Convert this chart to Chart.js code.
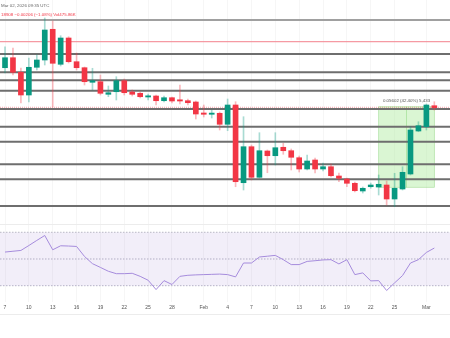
<!DOCTYPE html>
<html>
<head>
<meta charset="utf-8">
<script src="https://cdn.jsdelivr.net/npm/chart.js@4"></script>
<style>
  body { margin: 0; background: #fff; width: 450px; height: 338px; overflow: hidden; position: relative; font-family: "Liberation Sans", Arial, sans-serif; }
  #main { position: absolute; left: 0; top: 0; width: 450px; height: 224px; }
  #rsi { position: absolute; left: 0; top: 224px; width: 450px; height: 96px; }
  .hdr { position: absolute; left: 1px; font-size: 4.4px; white-space: nowrap; }
  .sep { position: absolute; left: 0; width: 450px; height: 1px; background: #ececec; }
</style>
</head>
<body>
<div id="main"><canvas id="mainChart"></canvas></div>
<div id="rsi"><canvas id="rsiChart"></canvas></div>
<div class="sep" style="top:224px"></div>
<div class="sep" style="top:314px"></div>
<div class="hdr" style="top:3px;color:#666">Mar 02, 2026 09:35 UTC</div>
<div class="hdr" style="top:12px;color:#f23645">18908 −0.00206 (−1.08%) Vol475.86K</div>
<script>
"use strict"

// data (one candle per day, Jan 7 .. Mar 2)
const opens = [0.2165, 0.2235, 0.2133, 0.1974, 0.2168, 0.2219, 0.2434, 0.2189, 0.2373, 0.2207,
  0.2165, 0.2063, 0.2067, 0.1979, 0.1997, 0.2074, 0.1995, 0.1986, 0.1960, 0.1967,
  0.1934, 0.1955, 0.1939, 0.1934, 0.1925, 0.1848, 0.1839, 0.1846, 0.1769, 0.1904,
  0.1360, 0.1612, 0.1398, 0.1582, 0.1549, 0.1608, 0.1584, 0.1535, 0.1456, 0.1519,
  0.1456, 0.1472, 0.1407, 0.1386, 0.1356, 0.1302, 0.1332, 0.1330, 0.1344, 0.1246,
  0.1316, 0.1421, 0.1722, 0.1752, 0.1899]
const closes = [0.2235, 0.2133, 0.1974, 0.2168, 0.2219, 0.2429, 0.2196, 0.2373, 0.2207, 0.2165,
  0.2067, 0.2074, 0.1986, 0.1990, 0.2074, 0.1990, 0.1979, 0.1962, 0.1967, 0.1934,
  0.1955, 0.1932, 0.1932, 0.1920, 0.1841, 0.1839, 0.1844, 0.1769, 0.1904, 0.1367,
  0.1612, 0.1398, 0.1584, 0.1549, 0.1605, 0.1584, 0.1538, 0.1456, 0.1512, 0.1456,
  0.1472, 0.1409, 0.1391, 0.1356, 0.1304, 0.1321, 0.1344, 0.1349, 0.1246, 0.1321,
  0.1433, 0.1729, 0.1759, 0.1904, 0.1885]
const highs = [0.2312, 0.2303, 0.2163, 0.2233, 0.2254, 0.2513, 0.2492, 0.2389, 0.2382, 0.2268,
  0.2170, 0.2161, 0.2114, 0.2037, 0.2102, 0.2086, 0.2009, 0.1995, 0.1981, 0.1974,
  0.1967, 0.1960, 0.2044, 0.1946, 0.1932, 0.1904, 0.1869, 0.1855, 0.1946, 0.1927,
  0.1822, 0.1624, 0.1710, 0.1589, 0.1710, 0.1636, 0.1596, 0.1547, 0.1554, 0.1533,
  0.1498, 0.1491, 0.1428, 0.1393, 0.1365, 0.1330, 0.1358, 0.1414, 0.1372, 0.1426,
  0.1472, 0.1752, 0.1787, 0.1911, 0.1927]
const lows = [0.2128, 0.2114, 0.1918, 0.1925, 0.2149, 0.2184, 0.1890, 0.2177, 0.2198, 0.2149,
  0.2044, 0.2009, 0.1974, 0.1962, 0.1939, 0.1974, 0.1967, 0.1953, 0.1939, 0.1904,
  0.1925, 0.1918, 0.1911, 0.1904, 0.1806, 0.1820, 0.1813, 0.1729, 0.1724, 0.1332,
  0.1309, 0.1379, 0.1393, 0.1430, 0.1484, 0.1559, 0.1449, 0.1435, 0.1449, 0.1428,
  0.1442, 0.1400, 0.1367, 0.1332, 0.1295, 0.1288, 0.1321, 0.1274, 0.1204, 0.1192,
  0.1309, 0.1414, 0.1717, 0.1729, 0.1869]
const rsiValues = [55.2, 55.8, 56.4, 60.1, 63.9, 67.6, 56.9, 59.9, 59.7, 59.4,
  51.9, 46.5, 43.7, 40.8, 39.0, 39.0, 39.3, 37.0, 34.1, 27.1,
  33.8, 30.9, 37.0, 37.8, 38.1, 38.3, 38.5, 38.7, 38.3, 36.6,
  47.0, 47.0, 51.5, 52.1, 52.7, 49.5, 45.8, 45.8, 48.2, 48.7,
  49.3, 49.5, 46.3, 49.5, 38.3, 39.6, 33.6, 33.8, 26.4, 32.1,
  37.6, 47.0, 49.5, 54.9, 58.2]

// x axis ticks (day index from Jan 7)
const tickDays = [0, 3, 6, 9, 12, 15, 18, 21, 25, 28, 31, 34, 37, 40, 43, 46, 49, 53]
const tickLabels = ["7", "10", "13", "16", "19", "22", "25", "28", "Feb", "4", "7", "10", "13", "16", "19", "22", "25", "Mar"]

// horizontal levels drawn on the chart
const levels = [0.2499, 0.2347, 0.2261, 0.2133, 0.2077, 0.2004, 0.1876, 0.1752, 0.1647, 0.1490, 0.1385, 0.1197]
const lastPrice = 0.1888

// price range measure
const rangeFrom = 47
const rangeTo = 54
const rangeLow = 0.1328
const rangeHigh = 0.1892
const rangeLabel = "0.05602 (42.40%) 5,433"

// rsi guide values
const rsiUpper = 70
const rsiMid = 50
const rsiLower = 30

// styles
const upColor = "#089981"
const downColor = "#f23645"
const upWick = "rgba(8, 153, 129, 0.35)"
const downWick = "rgba(242, 54, 69, 0.35)"
const xMin = -0.63
const xMax = 55.97
const gridColor = "rgba(0, 0, 0, 0.035)"

const days = opens.map((v, i) => i)
const isUp = days.map((i) => closes[i] >= opens[i])

function levelStyle(i) {
  if (i === 0) return { color: "#a0a0a0", width: 2 }
  if (i === 1) return { color: "#f3808c", width: 1 }
  return { color: "#6e6e6e", width: 2 }
}

function xTicks(axis) {
  axis.ticks = tickDays.map((v) => ({ value: v }))
}

// measure box plugin
const rangeBox = {
  id: "rangeBox",
  beforeDatasetsDraw(chart) {
    const { ctx, scales } = chart
    const x1 = scales.x.getPixelForValue(rangeFrom)
    const x2 = scales.x.getPixelForValue(rangeTo)
    const y1 = scales.y.getPixelForValue(rangeHigh)
    const y2 = scales.y.getPixelForValue(rangeLow)
    ctx.save()
    ctx.fillStyle = "rgba(150, 230, 130, 0.35)"
    ctx.fillRect(x1, y1, x2 - x1, y2 - y1)
    ctx.strokeStyle = "rgba(110, 200, 90, 0.5)"
    ctx.lineWidth = 0.7
    ctx.strokeRect(x1, y1, x2 - x1, y2 - y1)
    const xc = (x1 + x2) / 2
    ctx.beginPath()
    ctx.moveTo(xc, y1)
    ctx.lineTo(xc, y2)
    ctx.stroke()
    ctx.fillStyle = "#555"
    ctx.font = "4.4px 'Liberation Sans', Arial, sans-serif"
    ctx.textAlign = "center"
    ctx.fillText(rangeLabel, xc, y1 - 5)
    ctx.restore()
  },
}

const candleWicks = {
  type: "bar",
  data: days.map((i) => ({ x: i, y: [lows[i], highs[i]] })),
  backgroundColor: days.map((i) => (isUp[i] ? upWick : downWick)),
  barThickness: 1,
  grouped: false,
  order: 3,
}

const candleBodies = {
  type: "bar",
  data: days.map((i) => ({ x: i, y: [Math.min(opens[i], closes[i]), Math.max(opens[i], closes[i])] })),
  backgroundColor: days.map((i) => (isUp[i] ? upColor : downColor)),
  barThickness: 5,
  minBarLength: 1.2,
  grouped: false,
  order: 2,
}

const levelSets = levels.map((lv, i) => ({
  type: "line",
  data: [{ x: xMin, y: lv }, { x: xMax, y: lv }],
  borderColor: levelStyle(i).color,
  borderWidth: levelStyle(i).width,
  pointRadius: 0,
  order: 5,
}))

const priceLine = {
  type: "line",
  data: [{ x: xMin, y: lastPrice }, { x: xMax, y: lastPrice }],
  borderColor: "rgba(242, 54, 69, 0.45)",
  borderWidth: 1,
  borderDash: [1, 1],
  pointRadius: 0,
  order: 4,
}

let mainChart = new Chart(document.getElementById("mainChart"), {
  type: "bar",
  data: { datasets: [candleWicks, candleBodies, priceLine, ...levelSets] },
  options: {
    responsive: true,
    maintainAspectRatio: false,
    animation: false,
    layout: { padding: 0 },
    scales: {
      x: {
        type: "linear",
        min: xMin,
        max: xMax,
        offset: false,
        afterBuildTicks: xTicks,
        ticks: { display: false },
        grid: { color: gridColor, drawTicks: false, offset: false },
        border: { display: false },
      },
      y: { display: false, min: 0.1071, max: 0.2639 },
    },
    plugins: { legend: { display: false }, tooltip: { enabled: false } },
  },
  plugins: [rangeBox],
})

// rsi panel
const guide = (v, extra) => Object.assign({
  data: days.map((i) => ({ x: i === 0 ? xMin : i === days.length - 1 ? xMax : i, y: v })),
  borderColor: "#b8b8c4",
  borderWidth: 1,
  borderDash: [1.5, 1.5],
  pointRadius: 0,
}, extra)

let rsiChart = new Chart(document.getElementById("rsiChart"), {
  type: "line",
  data: {
    datasets: [
      guide(rsiUpper, { fill: "+1", backgroundColor: "rgba(126, 87, 194, 0.1)", order: 3 }),
      guide(rsiLower, { fill: false, order: 3 }),
      guide(rsiMid, { fill: false, order: 3 }),
      {
        data: days.map((i) => ({ x: i, y: rsiValues[i] })),
        borderColor: "#a58bdc",
        borderWidth: 1,
        pointRadius: 0,
        tension: 0,
        fill: false,
        order: 1,
      },
    ],
  },
  options: {
    responsive: true,
    maintainAspectRatio: false,
    animation: false,
    layout: { padding: { top: 0, bottom: 6, left: 0, right: 0 } },
    scales: {
      x: {
        type: "linear",
        min: xMin,
        max: xMax,
        offset: false,
        afterBuildTicks: xTicks,
        ticks: {
          autoSkip: false,
          maxRotation: 0,
          padding: 3,
          color: "#555",
          font: { size: 5, family: "'Liberation Sans', Arial, sans-serif" },
          callback: (v) => tickLabels[tickDays.indexOf(v)],
        },
        grid: { color: gridColor, drawTicks: false },
        border: { display: false },
      },
      y: { display: false, min: 17.8, max: 76.2 },
    },
    plugins: { legend: { display: false }, tooltip: { enabled: false } },
  },
})
</script>
</body>
</html>
